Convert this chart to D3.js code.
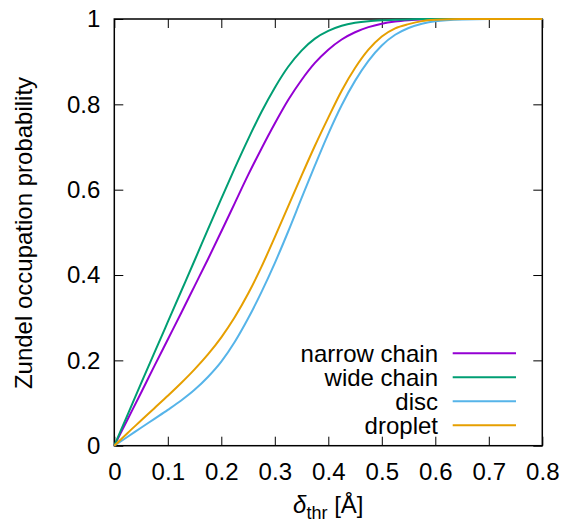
<!DOCTYPE html>
<html>
<head>
<script src="https://cdn.jsdelivr.net/npm/d3@7"></script>
<style>
  body { margin: 0; background: #fff; }
  svg text { font-family: "Liberation Sans", Arial, Helvetica, sans-serif; fill: #000; }
</style>
</head>
<body>
<div id="chart"></div>
<script>
// threshold values (x) and the four occupation curves
var deltaThr = [0, 0.025, 0.05, 0.075, 0.1, 0.125, 0.15, 0.175, 0.2, 0.225, 0.25, 0.275, 0.3,
  0.325, 0.35, 0.375, 0.4, 0.425, 0.45, 0.475, 0.5, 0.525, 0.55, 0.575, 0.6, 0.65, 0.7, 0.75, 0.8];
var narrowChain = [0, 0.062, 0.124, 0.187, 0.249, 0.311, 0.374, 0.437, 0.502, 0.568, 0.634, 0.696, 0.755,
  0.810, 0.857, 0.897, 0.928, 0.952, 0.969, 0.981, 0.989, 0.994, 0.997, 0.999, 1, 1, 1, 1, 1];
var wideChain = [0, 0.073, 0.146, 0.218, 0.290, 0.362, 0.434, 0.507, 0.579, 0.650, 0.718, 0.782, 0.839,
  0.888, 0.926, 0.954, 0.972, 0.984, 0.991, 0.995, 0.997, 0.998, 0.999, 1, 1, 1, 1, 1, 1];
var disc = [0, 0.021, 0.042, 0.063, 0.084, 0.106, 0.131, 0.161, 0.197, 0.243, 0.298, 0.360, 0.428,
  0.502, 0.580, 0.657, 0.731, 0.798, 0.855, 0.902, 0.938, 0.963, 0.979, 0.989, 0.995, 0.999, 1, 1, 1];
var droplet = [0, 0.030, 0.059, 0.088, 0.117, 0.147, 0.179, 0.214, 0.254, 0.301, 0.356, 0.419, 0.489,
  0.561, 0.633, 0.703, 0.769, 0.832, 0.885, 0.928, 0.959, 0.978, 0.988, 0.995, 0.998, 1, 1, 1, 1];

var seriesNames = ["narrow chain", "wide chain", "disc", "droplet"];
var seriesColors = ["#9400d3", "#009e73", "#56b4e9", "#e69f00"];
var xTicks = [0, 0.1, 0.2, 0.3, 0.4, 0.5, 0.6, 0.7, 0.8];
var yTicks = [0, 0.2, 0.4, 0.6, 0.8, 1];

var W = 564, H = 527;
var pLeft = 114.3, pRight = 542.3, pTop = 19, pBottom = 445.7;
var fs = 24;

var svg = d3.select("#chart").append("svg")
    .attr("width", W)
    .attr("height", H);

var x = d3.scaleLinear().domain([0, 0.8]).range([pLeft, pRight]);
var y = d3.scaleLinear().domain([0, 1]).range([pBottom, pTop]);

// axes with inward ticks (gnuplot style), mirrored on top/right
function styleAxis(g) {
  g.attr("font-size", fs).attr("font-family", null);
  g.select(".domain").remove();
  g.selectAll(".tick line").attr("stroke", "#000").attr("stroke-width", 1);
}

svg.append("g")
    .attr("transform", "translate(0," + pBottom + ")")
    .call(d3.axisBottom(x).tickValues(xTicks).tickSizeInner(-9).tickSizeOuter(0)
      .tickPadding(17.5).tickFormat(d3.format("")))
    .call(styleAxis);

svg.append("g")
    .attr("transform", "translate(0," + pTop + ")")
    .call(d3.axisTop(x).tickValues(xTicks).tickSizeInner(-9).tickSizeOuter(0).tickFormat(""))
    .call(styleAxis);

svg.append("g")
    .attr("transform", "translate(" + pLeft + ",0)")
    .call(d3.axisLeft(y).tickValues(yTicks).tickSizeInner(-9).tickSizeOuter(0)
      .tickPadding(14).tickFormat(d3.format("")))
    .call(styleAxis);

svg.append("g")
    .attr("transform", "translate(" + pRight + ",0)")
    .call(d3.axisRight(y).tickValues(yTicks).tickSizeInner(-9).tickSizeOuter(0).tickFormat(""))
    .call(styleAxis);

// plot border
svg.append("rect")
    .attr("x", pLeft).attr("y", pTop)
    .attr("width", pRight - pLeft).attr("height", pBottom - pTop)
    .attr("fill", "none")
    .attr("stroke", "#000")
    .attr("stroke-width", 1.5);

// curves
var allSeries = [narrowChain, wideChain, disc, droplet];
var line = d3.line()
    .x(function(d, i) { return x(deltaThr[i]); })
    .y(function(d) { return y(d); })
    .curve(d3.curveMonotoneX);

svg.selectAll(".curve")
    .data(allSeries)
    .enter().append("path")
    .attr("class", "curve")
    .attr("d", line)
    .attr("fill", "none")
    .attr("stroke", function(d, i) { return seriesColors[i]; })
    .attr("stroke-width", 2);

// legend
var legend = svg.selectAll(".leg")
    .data(seriesNames)
    .enter().append("g")
    .attr("class", "leg")
    .attr("transform", function(d, i) { return "translate(0," + (353.3 + i * 24) + ")"; });

legend.append("text")
    .attr("x", 438)
    .attr("dy", "0.35em")
    .attr("text-anchor", "end")
    .attr("font-size", fs)
    .text(function(d) { return d; });

legend.append("line")
    .attr("x1", 452.7).attr("x2", 516)
    .attr("stroke", function(d, i) { return seriesColors[i]; })
    .attr("stroke-width", 2);

// axis titles
var xl = svg.append("text")
    .attr("x", (pLeft + pRight) / 2)
    .attr("y", 513)
    .attr("text-anchor", "middle")
    .attr("font-size", fs);
xl.append("tspan").attr("font-style", "italic").text("δ");
xl.append("tspan").attr("font-size", 18).attr("dy", 6).text("thr");
xl.append("tspan").attr("dy", -6).text(" [Å]");

svg.append("text")
    .attr("transform", "translate(32,233) rotate(-90)")
    .attr("text-anchor", "middle")
    .attr("font-size", fs)
    .text("Zundel occupation probability");
</script>
</body>
</html>
